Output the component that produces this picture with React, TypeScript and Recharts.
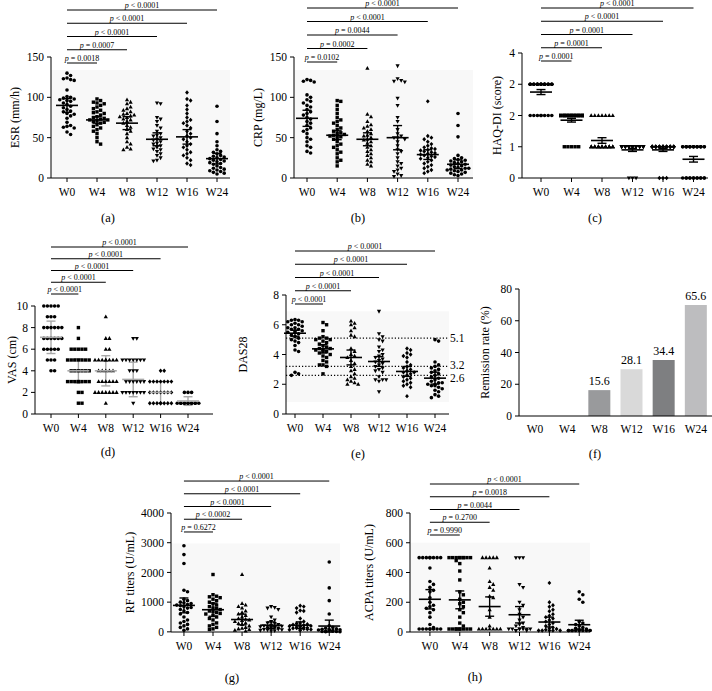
import {
  ScatterChart, Scatter, XAxis, YAxis, ErrorBar, ReferenceLine, ReferenceDot, ReferenceArea,
  BarChart, Bar, Cell, LabelList,
} from 'recharts'

const weeks = ['W0', 'W4', 'W8', 'W12', 'W16', 'W24']

// (a) ESR
const esrValues = [
  [130, 127, 124, 123, 122, 121, 109, 101, 100, 99, 98, 97, 96, 95, 93, 91, 89, 87, 85, 83, 82, 80, 79, 77, 74, 69, 65, 64, 63, 62, 57, 54],
  [98, 96, 94, 93, 92, 90, 88, 86, 84, 82, 81, 80, 78, 76, 75, 74, 73, 72, 72, 71, 70, 69, 68, 66, 64, 62, 60, 58, 55, 50, 45, 42],
  [97, 94, 92, 88, 86, 84, 82, 80, 79, 78, 77, 76, 75, 73, 72, 70, 68, 65, 63, 60, 58, 55, 50, 45, 42, 38, 36, 35],
  [93, 92, 75, 73, 70, 65, 62, 58, 55, 53, 52, 50, 48, 47, 45, 43, 42, 40, 38, 36, 35, 33, 30, 28, 25, 22, 21],
  [106, 98, 96, 90, 85, 80, 75, 72, 70, 68, 65, 62, 58, 55, 52, 50, 48, 45, 42, 40, 38, 35, 32, 30, 28, 25, 22, 18, 16],
  [89, 70, 55, 45, 40, 35, 33, 32, 30, 28, 27, 26, 25, 24, 23, 22, 21, 20, 19, 18, 17, 15, 13, 12, 11, 10, 9, 8, 7, 6, 5],
]
const esrMean = [90, 72, 68, 48, 51, 24]
const esrErr = [8.5, 4, 8, 8, 9, 6.5]
const esrP = ['= 0.0018', '= 0.0007', '< 0.0001', '< 0.0001', '< 0.0001']

// (b) CRP
const crpValues = [
  [122, 121, 120, 119, 103, 100, 97, 95, 93, 90, 88, 85, 82, 80, 78, 75, 73, 70, 68, 65, 62, 60, 58, 55, 50, 48, 45, 40, 38, 33, 31],
  [96, 95, 90, 85, 80, 75, 72, 70, 68, 65, 62, 60, 58, 56, 55, 54, 53, 52, 51, 50, 48, 45, 42, 40, 38, 35, 32, 30, 25, 22, 20, 15],
  [136, 79, 76, 70, 66, 64, 62, 60, 58, 55, 53, 52, 50, 48, 47, 45, 43, 40, 38, 35, 33, 30, 28, 25, 22, 20, 17, 15],
  [139, 123, 121, 120, 119, 99, 90, 75, 70, 60, 55, 52, 50, 50, 48, 45, 40, 35, 33, 30, 25, 20, 18, 15, 12, 10, 8, 5, 3, 2],
  [95, 52, 50, 48, 45, 42, 40, 38, 37, 36, 35, 34, 33, 32, 31, 30, 29, 28, 27, 26, 25, 24, 22, 20, 18, 16, 14, 12, 10, 8, 6],
  [80, 65, 51, 28, 25, 24, 23, 22, 21, 20, 19, 18, 17, 16, 15, 14, 13, 12, 12, 11, 10, 10, 9, 8, 7, 6, 5, 4, 3],
]
const crpMean = [74, 53, 48, 50, 29, 17]
const crpErr = [10, 5.5, 8, 15, 6, 5.5]
const crpP = ['= 0.0102', '= 0.0002', '= 0.0044', '< 0.0001', '< 0.0001']

// (c) HAQ-DI, on the axis' own tick positions
const haqValues = [
  [3, 3, 3, 3, 3, 3, 3, 3, 3, 3, 3, 3, 3, 3, 3, 3, 3, 3, 3, 3, 3, 3, 3, 3, 2, 2, 2, 2, 2, 2, 2, 2],
  [2, 2, 2, 2, 2, 2, 2, 2, 2, 2, 2, 2, 2, 2, 2, 2, 2, 2, 2, 2, 2, 2, 2, 2, 2, 2, 2, 1, 1, 1, 1, 1],
  [2, 2, 2, 2, 2, 2, 2, 1, 1, 1, 1, 1, 1, 1, 1, 1, 1, 1, 1, 1, 1, 1, 1, 1, 1, 1, 1, 1, 1, 1, 1, 1],
  [1, 1, 1, 1, 1, 1, 1, 1, 1, 1, 1, 1, 1, 1, 1, 1, 1, 1, 1, 1, 1, 1, 1, 1, 1, 1, 1, 1, 1, 0, 0, 0],
  [1, 1, 1, 1, 1, 1, 1, 1, 1, 1, 1, 1, 1, 1, 1, 1, 1, 1, 1, 1, 1, 1, 1, 1, 1, 1, 1, 1, 1, 0, 0, 0],
  [1, 1, 1, 1, 1, 1, 1, 1, 1, 1, 1, 1, 1, 1, 1, 1, 1, 1, 1, 0, 0, 0, 0, 0, 0, 0, 0, 0, 0, 0, 0, 0],
]
const haqMean = [2.75, 1.85, 1.2, 0.9, 0.9, 0.6]
const haqErr = [0.08, 0.06, 0.09, 0.05, 0.05, 0.09]
const haqTicks = [0, 1, 2, 3, 4]
const haqTickLabels = ['0', '1', '2', '2', '4']
const haqP = ['= 0.0001', '= 0.0001', '= 0.0001', '< 0.0001', '< 0.0001']

// (d) VAS
const vasValues = [
  [10, 10, 10, 10, 10, 9, 9, 9, 8, 8, 8, 8, 8, 8, 7, 7, 7, 7, 7, 7, 6, 6, 6, 6, 6, 5, 5, 5, 4, 4],
  [8, 7, 6, 6, 6, 6, 6, 5, 5, 5, 5, 5, 5, 5, 4, 4, 4, 4, 4, 4, 3, 3, 3, 3, 3, 3, 3, 3, 2, 2, 1, 1],
  [9, 7, 7, 6, 6, 5, 5, 5, 5, 5, 5, 5, 5, 4, 4, 4, 4, 4, 3, 3, 3, 3, 3, 3, 2, 2, 2, 2, 2, 2, 2, 1],
  [7, 7, 5, 5, 5, 5, 5, 5, 5, 4, 4, 4, 3, 3, 3, 3, 3, 3, 2, 2, 2, 2, 2, 2, 2, 1],
  [4, 4, 3, 3, 3, 3, 3, 3, 3, 2, 2, 2, 2, 2, 2, 2, 1, 1, 1, 1, 1, 1, 1, 1],
  [2, 2, 2, 1, 1, 1, 1, 1, 1, 1, 1, 1, 1, 1, 1],
]
const vasMean = [7.1, 4, 4, 3.2, 2, 1.2]
const vasSd = [1.5, 1.1, 1.4, 1.6, 1, 0.4]
const vasP = ['< 0.0001', '< 0.0001', '< 0.0001', '< 0.0001', '< 0.0001']

// (e) DAS28
const dasValues = [
  [6.35, 6.3, 6.3, 6.2, 6.2, 6.1, 6.0, 6.0, 5.9, 5.8, 5.8, 5.7, 5.7, 5.6, 5.6, 5.5, 5.5, 5.4, 5.3, 5.2, 5.1, 5.0, 4.9, 4.8, 4.6, 4.3, 4.2, 2.8, 2.7, 2.6],
  [6.15, 6.0, 5.6, 5.2, 5.1, 5.1, 5.0, 5.0, 4.9, 4.8, 4.7, 4.6, 4.5, 4.4, 4.4, 4.3, 4.3, 4.2, 4.2, 4.1, 4.0, 3.9, 3.8, 3.6, 3.5, 3.3, 3.3, 3.2, 2.7],
  [6.25, 6.1, 6.0, 5.8, 5.6, 5.3, 5.2, 4.4, 4.2, 4.0, 3.9, 3.8, 3.6, 3.4, 3.2, 3.0, 2.9, 2.7, 2.5, 2.4, 2.3, 2.2, 2.1, 2.0, 2.0],
  [6.9, 5.4, 5.2, 5.0, 4.9, 4.5, 4.3, 4.2, 4.0, 3.9, 3.8, 3.7, 3.6, 3.5, 3.4, 3.3, 3.2, 3.1, 3.0, 2.9, 2.8, 2.5, 2.3, 2.3, 2.3, 2.2, 1.5],
  [4.4, 4.3, 4.1, 4.0, 3.9, 3.8, 3.5, 3.3, 3.2, 3.1, 3.0, 2.9, 2.8, 2.8, 2.7, 2.6, 2.5, 2.4, 2.3, 2.2, 2.1, 2.0, 1.9, 1.8, 1.2],
  [5.0, 4.9, 3.5, 3.3, 3.2, 3.1, 3.0, 2.9, 2.8, 2.7, 2.6, 2.5, 2.4, 2.3, 2.2, 2.1, 2.1, 2.0, 2.0, 1.9, 1.9, 1.8, 1.7, 1.6, 1.5, 1.3, 1.2, 1.1],
]
const dasMean = [5.43, 4.38, 3.8, 3.53, 2.86, 2.41]
const dasErr = [0.2, 0.28, 0.5, 0.33, 0.33, 0.4]
const dasCutoffs = [5.1, 3.2, 2.6]
const dasP = ['< 0.0001', '< 0.0001', '< 0.0001', '< 0.0001', '< 0.0001']

// (f) remission
const remissionRate = [0, 0, 16.3, 29.4, 35.2, 69.9]
const remissionLabels = ['', '', '15.6', '28.1', '34.4', '65.6']
const remissionColors = ['#999a9c', '#999a9c', '#999a9c', '#d9d9d9', '#7e7f81', '#bdbdbf']

// (g) RF
const rfValues = [
  [2900, 2600, 2300, 1400, 1350, 1100, 1050, 1000, 980, 950, 920, 900, 880, 850, 820, 800, 750, 700, 650, 600, 500, 400, 350, 300, 250, 200, 150, 100, 50],
  [1930, 1250, 1200, 1180, 1150, 1100, 1050, 1000, 950, 900, 850, 800, 780, 750, 700, 680, 650, 620, 600, 550, 500, 450, 400, 300, 250, 200, 150, 100, 80],
  [1930, 950, 900, 850, 800, 700, 650, 600, 550, 500, 450, 420, 400, 380, 350, 300, 280, 250, 200, 150, 120, 100, 80, 50, 30],
  [850, 820, 800, 750, 500, 400, 350, 300, 280, 250, 220, 200, 190, 180, 170, 160, 150, 140, 130, 120, 100, 90, 80, 70, 60, 50, 40, 30],
  [880, 850, 800, 720, 700, 650, 450, 350, 300, 280, 260, 240, 220, 200, 190, 180, 170, 160, 150, 140, 130, 120, 100, 90, 80, 70, 60, 50],
  [2350, 1480, 1050, 600, 200, 150, 120, 100, 90, 80, 70, 60, 50, 40, 30, 20, 10, 10, 5, 5],
]
const rfMean = [890, 745, 415, 225, 225, 195]
const rfErr = [250, 220, 180, 110, 110, 200]
const rfP = ['= 0.6272', '< 0.0002', '< 0.0001', '< 0.0001', '< 0.0001']

// (h) ACPA
const acpaValues = [
  [500, 500, 500, 500, 500, 500, 500, 500, 430, 340, 320, 300, 280, 270, 230, 200, 180, 170, 160, 150, 130, 100, 50, 30, 20, 20, 20, 20, 20, 20, 20, 20],
  [500, 500, 500, 500, 500, 500, 500, 500, 500, 480, 460, 410, 350, 270, 250, 220, 200, 190, 170, 150, 130, 100, 60, 40, 20, 20, 20, 20, 20, 20, 20, 20, 20],
  [500, 500, 500, 500, 500, 430, 340, 320, 300, 280, 240, 230, 150, 100, 40, 20, 20, 20, 20, 20, 20, 20],
  [500, 500, 500, 320, 300, 200, 180, 150, 120, 100, 80, 60, 50, 40, 30, 20, 20, 20, 20, 20, 20, 20, 10, 10, 10],
  [330, 200, 180, 170, 150, 140, 120, 110, 100, 90, 80, 70, 60, 50, 40, 30, 25, 20, 15, 10, 10, 10, 10, 10],
  [270, 250, 220, 200, 70, 60, 50, 40, 30, 25, 20, 15, 10, 10, 10, 10, 10, 10, 10, 10, 10, 10],
]
const acpaMean = [220, 216, 171, 116, 67, 49]
const acpaErr = [65, 60, 65, 55, 33, 30]
const acpaP = ['= 0.9990', '= 0.2700', '= 0.0044', '= 0.0018', '< 0.0001']

const FONT = '"Liberation Serif", "DejaVu Serif", serif'
const CH = 220
const XH = 30

type Lay = {
  left: number; top: number; width: number
  axisX: number; axisEnd: number; yTop: number; yBottom: number
  cat0: number; step: number; titleX: number; brBottom: number; brGap: number
  shade?: [number, number]
}

// beeswarm-like horizontal spread, in pixels, converted back to category units
function swarm(groups: number[][], pxY: number, pxX: number, d: number, maxK: number) {
  const out: { x: number; y: number; g: number }[] = []
  groups.forEach((vals, g) => {
    const placed: { dx: number; py: number }[] = []
    ;[...vals].sort((a, b) => b - a).forEach((v) => {
      const py = v * pxY
      let best = 0
      let bestHits = Infinity
      for (let k = 0; k <= 2 * maxK; k++) {
        const dx = (k % 2 === 1 ? 1 : -1) * Math.ceil(k / 2) * d + 0
        const hits = placed.filter((p) => Math.hypot(p.dx - dx, p.py - py) < d * 0.95).length
        if (hits < bestHits) { best = dx; bestHits = hits }
        if (hits === 0) break
      }
      placed.push({ dx: best, py })
      out.push({ x: g + best / pxX, y: v, g })
    })
  })
  return out
}

function Marker(props: any) {
  const { cx, cy, payload } = props
  if (cx == null || cy == null) return null
  const g = payload.g
  if (g === 1) return <rect x={cx - 1.7} y={cy - 1.7} width={3.4} height={3.4} fill="#000" />
  if (g === 2) return <path d={`M${cx},${cy - 2.3}L${cx + 2.1},${cy + 1.5}L${cx - 2.1},${cy + 1.5}Z`} fill="#000" />
  if (g === 3) return <path d={`M${cx},${cy + 2.3}L${cx + 2.1},${cy - 1.5}L${cx - 2.1},${cy - 1.5}Z`} fill="#000" />
  if (g === 4) return <path d={`M${cx},${cy - 2.2}L${cx + 1.9},${cy}L${cx},${cy + 2.2}L${cx - 1.9},${cy}Z`} fill="#000" />
  return <circle cx={cx} cy={cy} r={1.8} fill="#000" />
}

function DotPanel({ lay, values, means, errs, yMax, yTicks, yLabels, title, pTexts, color = '#000', maxK = 3, children }: any) {
  const pxY = (lay.yBottom - lay.yTop) / yMax
  const pts = swarm(values, pxY, lay.step, 3.6, maxK)
  const meanData = means.map((m: number, i: number) => ({ x: i, y: m, err: errs[i] }))
  const xMin = (lay.axisX - lay.cat0) / lay.step
  const xMax = (lay.axisEnd - lay.cat0) / lay.step
  const toVal = (py: number) => (lay.yBottom - py) / pxY
  const meanShape = (p: any) => (
    <line x1={p.cx - 11} x2={p.cx + 11} y1={p.cy} y2={p.cy} stroke={color} strokeWidth={1.6} />
  )
  return (
    <div style={{ position: 'absolute', left: lay.left, top: lay.top }}>
      <ScatterChart
        width={lay.width}
        height={CH}
        margin={{ top: lay.yTop - lay.top, right: lay.left + lay.width - lay.axisEnd, bottom: lay.top + CH - lay.yBottom - XH, left: 0 }}
      >
        {lay.shade && (
          <ReferenceArea y1={lay.shade[0]} y2={lay.shade[1]} fill="#f8f8f8" fillOpacity={1} stroke="none" />
        )}
        <XAxis
          type="number" dataKey="x" domain={[xMin, xMax]} ticks={[0, 1, 2, 3, 4, 5]} interval={0}
          tickFormatter={(i: number) => weeks[i]} height={XH}
          stroke="#000" tickSize={4} tickMargin={6}
          tick={{ fill: '#000', fontSize: 11.5 }}
        />
        <YAxis
          type="number" dataKey="y" domain={[0, yMax]} ticks={yTicks} interval={0}
          width={lay.axisX - lay.left} stroke="#000" tickSize={4} tickMargin={3}
          tick={{ fill: '#000', fontSize: 11.5 }}
          tickFormatter={yLabels ? (v: number) => yLabels[yTicks.indexOf(v)] : undefined}
          label={{ value: title, angle: -90, position: 'insideLeft', offset: lay.titleX - lay.left, fill: '#000', fontSize: 12, style: { textAnchor: 'middle' } }}
        />
        {pTexts.map((t: string, k: number) => {
          const v = toVal(lay.brBottom - k * lay.brGap)
          return (
            <ReferenceLine key={'l' + k} segment={[{ x: 0, y: v }, { x: k + 1, y: v }]} stroke="#000" strokeWidth={1} ifOverflow="visible" />
          )
        })}
        {pTexts.map((t: string, k: number) => {
          const v = toVal(lay.brBottom - k * lay.brGap)
          return (
            <ReferenceDot
              key={'t' + k} x={(k + 1) / 2} y={v} r={0} ifOverflow="visible"
              shape={(p: any) => (
                <text x={p.cx} y={p.cy - 2} textAnchor="middle" fontSize={8} fill="#000">
                  <tspan fontStyle="italic">p</tspan>
                  {' ' + t}
                </text>
              )}
            />
          )
        })}
        {children}
        <Scatter data={pts} shape={Marker} isAnimationActive={false} />
        <Scatter data={meanData} shape={meanShape} isAnimationActive={false}>
          <ErrorBar dataKey="err" direction="y" width={4.5} stroke={color} strokeWidth={1.4} />
        </Scatter>
      </ScatterChart>
    </div>
  )
}

const layA: Lay = { left: 0, top: 0, width: 235, axisX: 51, axisEnd: 230, yTop: 57, yBottom: 178, cat0: 67, step: 30, titleX: 15, brBottom: 63, brGap: 13.25, shade: [2, 134] }
const layB: Lay = { left: 236, top: 0, width: 240, axisX: 294, axisEnd: 473, yTop: 57, yBottom: 178, cat0: 307, step: 30.2, titleX: 258, brBottom: 62, brGap: 13.5, shade: [2, 134] }
const layC: Lay = { left: 470, top: 0, width: 242, axisX: 522, axisEnd: 708, yTop: 53, yBottom: 178, cat0: 541, step: 30.5, titleX: 497, brBottom: 61, brGap: 13.25 }
const layD: Lay = { left: 0, top: 230, width: 236, axisX: 35, axisEnd: 213, yTop: 306, yBottom: 414, cat0: 51, step: 27.4, titleX: 12, brBottom: 294, brGap: 11.75 }
const layE: Lay = { left: 236, top: 230, width: 234, axisX: 286, axisEnd: 449, yTop: 295, yBottom: 414, cat0: 295, step: 28, titleX: 243, brBottom: 304, brGap: 13.25, shade: [0.8, 6.9] }
const layG: Lay = { left: 115, top: 460, width: 235, axisX: 171, axisEnd: 340, yTop: 513, yBottom: 632, cat0: 184, step: 29.2, titleX: 130, brBottom: 532, brGap: 12.75, shade: [40, 2970] }
const layH: Lay = { left: 350, top: 460, width: 245, axisX: 410, axisEnd: 590, yTop: 513, yBottom: 632, cat0: 430, step: 30, titleX: 369, brBottom: 535, brGap: 12.75, shade: [8, 600] }

// vertical nudges of the DAS28 cut-off labels so they do not collide
const cutoffLabelDy = [0, -1, 3]

const panelTags = [
  { t: '(a)', x: 108, y: 218 }, { t: '(b)', x: 358, y: 218 }, { t: '(c)', x: 595, y: 218 },
  { t: '(d)', x: 108, y: 452 }, { t: '(e)', x: 358, y: 454 }, { t: '(f)', x: 595, y: 454 },
  { t: '(g)', x: 232, y: 678 }, { t: '(h)', x: 475, y: 677 },
]

function RemissionPanel() {
  const left = 470, top = 230, axisX = 519, yTop = 289, yBottom = 416
  const data = weeks.map((w, i) => ({ week: w, rate: remissionRate[i], label: remissionLabels[i] }))
  return (
    <div style={{ position: 'absolute', left, top }}>
      <BarChart width={242} height={CH} data={data} margin={{ top: yTop - top, right: 0, bottom: top + CH - yBottom - XH, left: 0 }}>
        <XAxis dataKey="week" height={XH} stroke="#000" tickLine={false} tickSize={4} tickMargin={5} interval={0} tick={{ fill: '#000', fontSize: 11.5 }} />
        <YAxis
          domain={[0, 80]} ticks={[0, 20, 40, 60, 80]} interval={0} width={axisX - left} stroke="#000" tickSize={4} tickMargin={3}
          tick={{ fill: '#000', fontSize: 11.5 }}
          label={{ value: 'Remission rate (%)', angle: -90, position: 'insideLeft', offset: 485 - left, fill: '#000', fontSize: 12, style: { textAnchor: 'middle' } }}
        />
        <Bar dataKey="rate" barSize={22} isAnimationActive={false}>
          {data.map((d, i) => <Cell key={d.week} fill={remissionColors[i]} />)}
          <LabelList dataKey="label" position="top" fill="#000" fontSize={12} offset={5} />
        </Bar>
      </BarChart>
    </div>
  )
}

export default function App() {
  const xMinE = (layE.axisX - layE.cat0) / layE.step
  const xEndE = (layE.axisEnd - 1 - layE.cat0) / layE.step
  return (
    <div style={{ position: 'absolute', left: 0, top: 0, width: 712, height: 691, background: '#fff', fontFamily: FONT, overflow: 'hidden' }}>
      <DotPanel lay={layA} values={esrValues} means={esrMean} errs={esrErr} yMax={150} yTicks={[0, 50, 100, 150]} title="ESR (mm/h)" pTexts={esrP} />
      <DotPanel lay={layB} values={crpValues} means={crpMean} errs={crpErr} yMax={150} yTicks={[0, 50, 100, 150]} title="CRP (mg/L)" pTexts={crpP} />
      <DotPanel lay={layC} values={haqValues} means={haqMean} errs={haqErr} yMax={4} yTicks={haqTicks} yLabels={haqTickLabels} title="HAQ-DI (score)" pTexts={haqP} />
      <DotPanel lay={layD} values={vasValues} means={vasMean} errs={vasSd} yMax={10} yTicks={[0, 2, 4, 6, 8, 10]} title="VAS (cm)" pTexts={vasP} color="#a8a8a8" />
      <DotPanel lay={layE} values={dasValues} means={dasMean} errs={dasErr} yMax={8} yTicks={[0, 2, 4, 6, 8]} title="DAS28" pTexts={dasP} maxK={2}>
        {dasCutoffs.map((c) => (
          <ReferenceLine key={'c' + c} segment={[{ x: xMinE, y: c }, { x: xEndE, y: c }]} stroke="#000" strokeWidth={1.2} strokeDasharray="1.2 2" ifOverflow="visible" />
        ))}
        {dasCutoffs.map((c, i) => (
          <ReferenceDot
            key={'ct' + c} x={xEndE} y={c} r={0} ifOverflow="visible"
            shape={(p: any) => (
              <text x={p.cx + 2} y={p.cy + 4 + cutoffLabelDy[i]} fontSize={11.5} fill="#000">{c.toFixed(1)}</text>
            )}
          />
        ))}
      </DotPanel>
      <RemissionPanel />
      <DotPanel lay={layG} values={rfValues} means={rfMean} errs={rfErr} yMax={4000} yTicks={[0, 1000, 2000, 3000, 4000]} title="RF titers (U/mL)" pTexts={rfP} />
      <DotPanel lay={layH} values={acpaValues} means={acpaMean} errs={acpaErr} yMax={800} yTicks={[0, 200, 400, 600, 800]} title="ACPA titers (U/mL)" pTexts={acpaP} />
      {panelTags.map((p) => (
        <div key={p.t} style={{ position: 'absolute', left: p.x, top: p.y, transform: 'translate(-50%, -50%)', fontSize: 12.5, color: '#000' }}>{p.t}</div>
      ))}
    </div>
  )
}
